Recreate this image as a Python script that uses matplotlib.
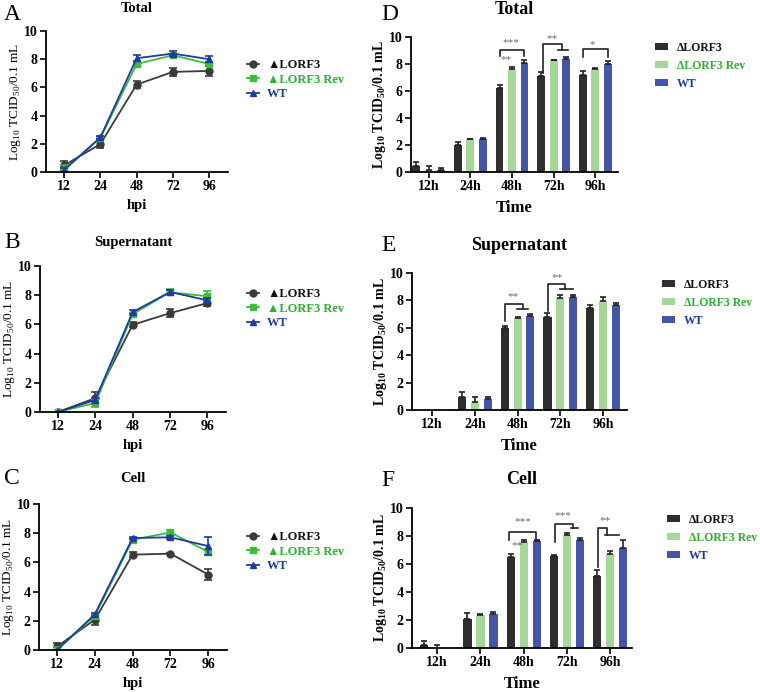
import numpy as np
import matplotlib
matplotlib.use('Agg')
from matplotlib import pyplot as plt

plt.rcParams['font.family'] = ['Liberation Serif', 'DejaVu Sans']
plt.rcParams['mathtext.fontset'] = 'custom'
plt.rcParams['mathtext.rm'] = 'Liberation Serif'
plt.rcParams['mathtext.bf'] = 'Liberation Serif:bold'

# ---- data -------------------------------------------------------------
hpi_labels = ['12', '24', '48', '72', '96']
time_labels = ['12h', '24h', '48h', '72h', '96h']

total_mut = [0.47, 1.98, 6.20, 7.10, 7.17]
total_mut_sd = [0.30, 0.25, 0.25, 0.28, 0.33]
total_rev = [0.17, 2.42, 7.66, 8.28, 7.66]
total_rev_sd = [0.30, 0.05, 0.15, 0.05, 0.05]
total_wt = [0.15, 2.45, 8.07, 8.40, 8.00]
total_wt_sd = [0.15, 0.10, 0.20, 0.15, 0.20]

sup_mut = [0.0, 0.95, 5.97, 6.77, 7.46]
sup_mut_sd = [0.0, 0.40, 0.17, 0.28, 0.17]
sup_rev = [0.0, 0.62, 6.70, 8.20, 7.93]
sup_rev_sd = [0.0, 0.30, 0.07, 0.20, 0.35]
sup_wt = [0.0, 0.83, 6.84, 8.22, 7.65]
sup_wt_sd = [0.0, 0.12, 0.15, 0.17, 0.17]

cell_mut = [0.24, 2.08, 6.53, 6.60, 5.17]
cell_mut_sd = [0.25, 0.40, 0.15, 0.03, 0.40]
cell_rev = [0.02, 2.35, 7.55, 8.05, 6.72]
cell_rev_sd = [0.20, 0.10, 0.15, 0.15, 0.20]
cell_wt = [0.0, 2.45, 7.67, 7.72, 7.12]
cell_wt_sd = [0.0, 0.10, 0.05, 0.12, 0.60]

line_names = ['\u25b2LORF3', '\u25b2LORF3 Rev', 'WT']
bar_names = ['\u0394LORF3', '\u0394LORF3 Rev', 'WT']

# ---- style ------------------------------------------------------------
line_colors = ['#3a3a3a', '#3dbb3d', '#1d3c9e']
line_markers = ['o', 's', '^']
bar_colors = ['#2e2e2e', '#a5d898', '#4556a8']
text_colors = ['#111111', '#2fb02f', '#1d3c9e']
star_color = '#6a6a6a'
W, H = 760, 692


def fx(px):
    return px / W


def fy(py):
    return 1 - py / H


def make_axes(fig, left, right, top, bottom):
    ax = fig.add_axes([fx(left), fy(bottom), fx(right - left), (bottom - top) / H])
    for s in ['top', 'right']:
        ax.spines[s].set_visible(False)
    for s in ['left', 'bottom']:
        ax.spines[s].set_linewidth(1.3)
    ax.set_ylim(0, 10)
    ax.set_yticks([0, 2, 4, 6, 8, 10])
    ax.tick_params(width=1.2, length=4, labelsize=10, pad=2)
    for lab in ax.get_yticklabels():
        lab.set_fontweight('bold')
    return ax


def line_panel(fig, box, title, series, title_y, legend_xy, xlim):
    ax = make_axes(fig, *box)
    x = np.arange(len(hpi_labels))
    handles = []
    for (vals, sd), name, c, m in zip(series, line_names, line_colors, line_markers):
        ax.errorbar(x, vals, yerr=sd, fmt='none', ecolor=c, elinewidth=1.2, capsize=3, capthick=1.2)
        h, = ax.plot(x, vals, color=c, marker=m, markersize=5, lw=1.3, label=name)
        handles.append(h)
    ax.set_xlim(*xlim)
    ax.set_xticks(x)
    ax.set_xticklabels(hpi_labels, fontweight='bold')
    ax.set_xlabel('hpi', fontweight='bold', fontsize=10.5, labelpad=4)
    ax.set_ylabel(r'Log$_{10}$ TCID$_{50}$/0.1 mL', fontsize=9.5, labelpad=1)
    fig.text(fx((box[0] + box[1]) / 2), fy(title_y), title, ha='center', va='center',
             fontsize=10.5, fontweight='bold')
    leg = ax.legend(handles=handles, loc='upper left', bbox_to_anchor=(fx(legend_xy[0]), fy(legend_xy[1])),
                    bbox_transform=fig.transFigure, frameon=False, handlelength=0.9, handletextpad=0.7,
                    labelspacing=0.2, borderpad=0, prop={'weight': 'bold', 'size': 9})
    for t, c in zip(leg.get_texts(), text_colors):
        t.set_color(c)
    return ax


def bar_panel(fig, box, title, series, title_y, legend_xy, xlim):
    ax = make_axes(fig, *box)
    x = np.arange(len(time_labels))
    offsets = [-0.3, 0.0, 0.3]
    for (vals, sd), name, c, off in zip(series, bar_names, bar_colors, offsets):
        ax.bar(x + off, vals, width=0.19, color=c, label=name, zorder=2)
        ax.errorbar(x + off, vals, yerr=[np.zeros(len(sd)), sd], fmt='none', ecolor='#222222',
                    elinewidth=1.2, capsize=2.5, capthick=1.2, zorder=3)
    ax.set_xlim(*xlim)
    ax.set_xticks(x)
    ax.set_xticklabels(time_labels, fontweight='bold')
    ax.set_xlabel('Time', fontweight='bold', fontsize=12, labelpad=5)
    ax.set_ylabel(r'Log$_{\mathbf{10}}$ TCID$_{\mathbf{50}}$/0.1 mL', fontsize=10, fontweight='bold', labelpad=1)
    fig.text(fx((box[0] + box[1]) / 2), fy(title_y), title, ha='center', va='center',
             fontsize=13, fontweight='bold')
    leg = ax.legend(loc='upper left', bbox_to_anchor=(fx(legend_xy[0]), fy(legend_xy[1])),
                    bbox_transform=fig.transFigure, frameon=False, handlelength=1.15, handleheight=0.55,
                    handletextpad=0.7, labelspacing=0.5, borderpad=0, prop={'weight': 'bold', 'size': 8.5})
    for t, c in zip(leg.get_texts(), text_colors):
        t.set_color(c)
    return ax


def simple_bracket(ax, x1, x2, y, y_low, label, lx, ly):
    ax.plot([x1, x1, x2, x2], [y_low, y, y, y_low], color='#222222', lw=1.2, zorder=4)
    ax.text(lx, ly, label, ha='center', va='center', fontsize=8, color=star_color)


def nested_bracket(ax, x1, y_low, y_top, x2, y_mid, h1, h2, label, lx, ly):
    ax.plot([x1, x1, x2, x2], [y_low, y_top, y_top, y_mid], color='#222222', lw=1.2, zorder=4)
    ax.plot([h1, h2], [y_mid, y_mid], color='#222222', lw=1.2, zorder=4)
    ax.text(lx, ly, label, ha='center', va='center', fontsize=8, color=star_color)


fig = plt.figure(figsize=(7.6, 6.92), dpi=100)

# left column: growth curves
line_panel(fig, (46, 228, 31, 172), 'Total',
           [(total_mut, total_mut_sd), (total_rev, total_rev_sd), (total_wt, total_wt_sd)],
           8, (241, 53), (-0.5, 4.52))
line_panel(fig, (40, 226, 266, 412), 'Supernatant',
           [(sup_mut, sup_mut_sd), (sup_rev, sup_rev_sd), (sup_wt, sup_wt_sd)],
           243, (241, 282), (-0.48, 4.5))
line_panel(fig, (39, 227, 504, 650), 'Cell',
           [(cell_mut, cell_mut_sd), (cell_rev, cell_rev_sd), (cell_wt, cell_wt_sd)],
           479, (241, 525), (-0.48, 4.5))

# right column: bar charts
axD = bar_panel(fig, (411, 618, 37, 172), 'Total',
                [(total_mut, total_mut_sd), (total_rev, total_rev_sd), (total_wt, total_wt_sd)],
                10, (649, 36), (-0.43, 4.55))
simple_bracket(axD, 1.7, 2.3, 9.04, 8.6, '***', 1.98, 9.6)
axD.text(1.86, 8.3, '**', ha='center', va='center', fontsize=8, color=star_color)
nested_bracket(axD, 2.75, 7.33, 9.48, 3.2, 9.04, 3.1, 3.35, '**', 2.96, 9.9)
simple_bracket(axD, 3.7, 4.3, 9.1, 8.5, '*', 3.92, 9.45)

axE = bar_panel(fig, (412, 627, 273, 410), 'Supernatant',
                [(sup_mut, sup_mut_sd), (sup_rev, sup_rev_sd), (sup_wt, sup_wt_sd)],
                245, (656, 273), (-0.47, 4.56))
nested_bracket(axE, 1.71, 6.5, 7.74, 2.13, 7.37, 1.99, 2.25, '**', 1.9, 8.25)
nested_bracket(axE, 2.71, 7.2, 9.2, 3.11, 8.83, 2.99, 3.3, '**', 2.92, 9.7)

axF = bar_panel(fig, (412, 632, 508, 648), 'Cell',
                [(cell_mut, cell_mut_sd), (cell_rev, cell_rev_sd), (cell_wt, cell_wt_sd)],
                480, (661, 508), (-0.58, 4.5))
simple_bracket(axF, 1.66, 2.29, 8.29, 7.7, '***', 1.97, 9.0)
axF.text(1.85, 7.3, '**', ha='center', va='center', fontsize=8, color=star_color)
nested_bracket(axF, 2.73, 7.57, 8.86, 3.14, 8.57, 3.1, 3.26, '***', 2.91, 9.43)
nested_bracket(axF, 3.72, 5.8, 8.57, 3.93, 8.07, 3.88, 4.21, '**', 3.88, 9.1)

# panel letters
for letter, px, py in [('A', 4, 14), ('B', 4, 243), ('C', 4, 479),
                       ('D', 381, 14), ('E', 381, 245), ('F', 381, 480)]:
    fig.text(fx(px), fy(py), letter, ha='left', va='center', fontsize=17)

fig.savefig('out.png', dpi=100)
